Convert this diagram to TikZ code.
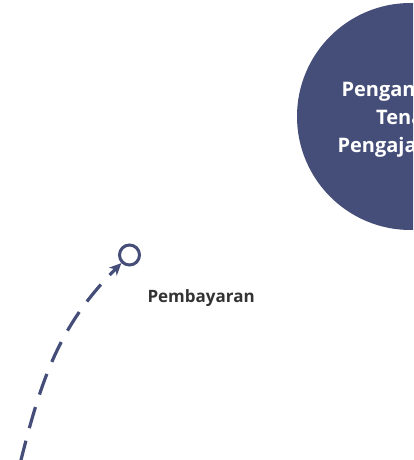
\documentclass[tikz,border=0pt]{standalone}
\usepackage{fontspec}
\setmainfont{Open Sans}
\usetikzlibrary{arrows.meta}
\definecolor{navy}{RGB}{69,78,120}
\definecolor{labelgray}{RGB}{51,51,51}
\tikzset{
  bigcircle/.style={circle,fill=navy,minimum size=227pt,inner sep=0pt},
  bigtext/.style={text=white,font=\bfseries\fontsize{20}{28}\selectfont,anchor=base west,inner sep=0pt},
  portcircle/.style={circle,draw=navy,line width=3pt,fill=white,minimum size=20pt,inner sep=0pt},
  flow/.style={draw=navy,line width=3.2pt,dash pattern=on 22pt off 13pt,-{Stealth[length=12pt,width=11pt,inset=3.5pt]}},
  lbl/.style={text=labelgray,font=\bfseries\fontsize{17}{20}\selectfont,anchor=base west,inner sep=0pt}
}
\begin{document}
\begin{tikzpicture}[x=1pt,y=1pt]
\clip (0,0) rectangle (413,-460);
\fill[white] (0,0) rectangle (413,-460);
\node[bigcircle] (main) at (410.5,-116.5) {};
\node[bigtext] (line1) at (341.3,-96) {Pengantar};
\node[bigtext] (line2) at (376,-124) {Tenaga};
\node[bigtext] (line3) at (337.3,-152) {Pengajaran};
\node[portcircle] (port) at (129.5,-255) {};
\coordinate (start) at (20.5,-462);
\draw[flow] (start) to[out=76,in=225] (port);
\node[lbl] (pay) at (147.3,-302.7) {Pembayaran};
\end{tikzpicture}
\end{document}
